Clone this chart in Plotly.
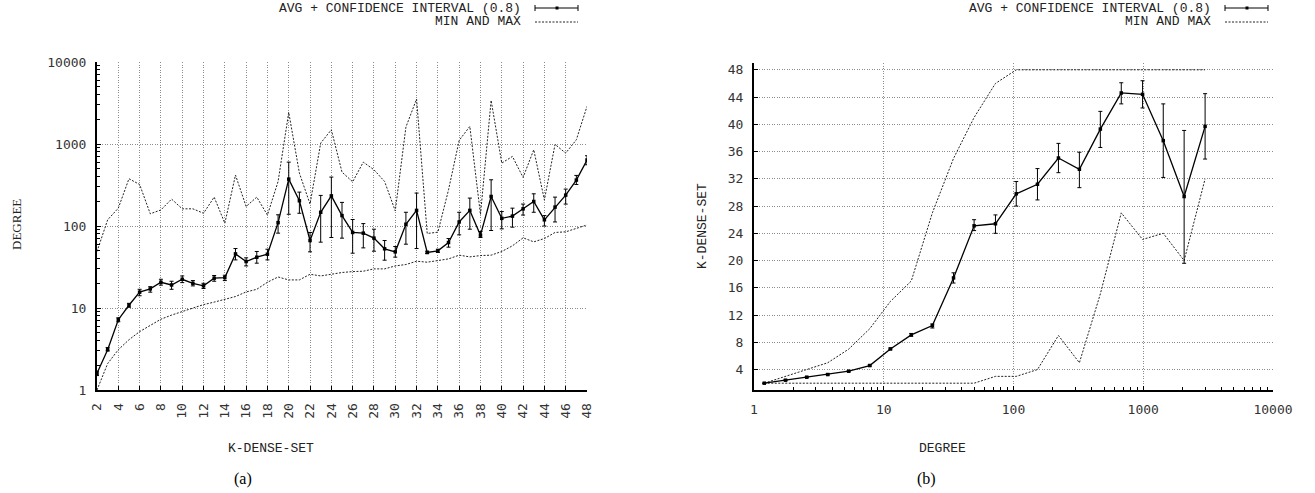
import plotly.graph_objects as go

W, H = 1315, 493

# ---------------- Panel (a): DEGREE vs K-DENSE-SET ----------------
k_vals = list(range(2, 49))
a_avg = [1.6, 3.1, 7.2, 10.8, 15.6, 17.1, 20.6, 19.1, 22.4, 20.0, 18.6, 23.1, 23.5,
         45.7, 36.9, 41.6, 45.3, 110, 373, 203, 66.5, 147, 233, 134, 83.4, 81.8,
         71.1, 52.7, 48.4, 105, 155, 47.5, 49.8, 62.9, 112, 155, 77.3, 229, 124,
         132, 162, 199, 119, 170, 238, 363, 636]
a_ci_hi = [1.7, 3.3, 7.6, 11.4, 16.9, 18.2, 22.4, 21.2, 24.6, 21.6, 20.0, 24.9, 25.1,
           53.1, 40.9, 48.9, 52.1, 137, 601, 259, 83.4, 236, 395, 194, 120, 107,
           91.4, 66.5, 56.2, 147, 252, 49.3, 52.1, 70.3, 147, 219, 85.7, 366, 150,
           165, 185, 247, 134, 225, 282, 414, 719]
a_ci_lo = [1.5, 3.0, 6.8, 10.2, 14.1, 15.6, 19.0, 16.9, 20.4, 18.6, 17.3, 21.2, 21.6,
           38.6, 32.6, 35.2, 38.6, 81.8, 139, 143, 48.4, 63.5, 72.4, 71.1, 46.6, 54.1,
           49.3, 38.3, 41.7, 60.0, 53.1, 46.2, 47.5, 55.2, 78.0, 91.4, 72.4, 88.1, 92.3,
           96.8, 136, 147, 100, 112, 185, 321, 558]
a_max = [48.9, 119, 165, 377, 321, 141, 157, 213, 162, 162, 143, 225, 108,
         418, 173, 225, 136, 349, 2430, 442, 185, 1026, 1493, 454, 346, 601,
         485, 349, 153, 1608, 3532, 81.0, 84.1, 276, 1106, 1640, 138, 3404, 585,
         705, 391, 851, 208, 988, 774, 1127, 2875]
a_min = [1.0, 2.1, 3.1, 4.1, 5.15, 6.2, 7.3, 8.2, 9.1, 10.1, 11.0, 11.8, 12.7,
         13.8, 15.7, 16.9, 20.6, 23.9, 22.0, 22.0, 25.8, 24.6, 25.8, 27.1, 27.8, 28.1,
         30.0, 30.0, 32.6, 33.9, 37.2, 36.2, 37.9, 39.7, 44.1, 42.0, 43.6, 44.1, 48.9,
         57.3, 71.7, 64.1, 70.3, 83.4, 84.9, 94.2, 103]
a_xticks = list(range(2, 49, 2))
a_yticks = [1, 10, 100, 1000, 10000]

# ---------------- Panel (b): K-DENSE-SET vs DEGREE ----------------
b_deg = [1.20, 1.75, 2.55, 3.70, 5.37, 7.80, 11.25, 16.3, 23.7, 34.5, 49.7,
         72.6, 105, 153, 222, 322, 467, 677, 988, 1426, 2066, 2997]
b_avg = [2.0, 2.44, 2.88, 3.27, 3.76, 4.59, 7.03, 9.09, 10.45, 17.45, 25.1,
         25.4, 29.8, 31.2, 35.05, 33.4, 39.3, 44.6, 44.4, 37.6, 29.4, 39.7]
b_ci_hi = [2.05, 2.5, 2.95, 3.35, 3.85, 4.7, 7.15, 9.3, 10.7, 18.2, 26.0,
           26.7, 31.6, 33.5, 37.2, 35.9, 41.9, 46.1, 46.4, 43.0, 39.1, 44.5]
b_ci_lo = [1.95, 2.38, 2.8, 3.19, 3.67, 4.48, 6.9, 8.9, 10.1, 16.7, 24.4,
           24.0, 28.0, 28.9, 32.9, 30.7, 36.6, 43.0, 42.4, 32.2, 19.6, 34.9]
b_max = [2, 3, 4, 5, 7, 10, 14, 17, 27, 35, 41, 46, 48, 48, 48, 48, 48, 48,
         48, 48, 48, 48]
b_min = [2, 2, 2, 2, 2, 2, 2, 2, 2, 2, 2, 3, 3, 4, 9, 5, 15.1, 27, 23.1,
         24, 20, 32]
b_xticks = [1, 10, 100, 1000, 10000]
b_yticks = list(range(4, 49, 4))

legend_avg = "AVG + CONFIDENCE INTERVAL (0.8)"
legend_mm = "MIN AND MAX"

MONO = "DejaVu Sans Mono"
LMONO = "Liberation Mono"
SERIF = "Liberation Serif"
GRID = "#8c8c8c"
DASH = "2px,1.5px"
GRIDDASH = "1px,1.5px"

# minor log ticks (2..9 in every decade) for the log axes
log_minor = [m * 10 ** d for d in range(0, 4) for m in range(2, 10)]


def err(avg, hi, lo):
    up = [h - a for a, h in zip(avg, hi)]
    dn = [a - l for a, l in zip(avg, lo)]
    return dict(type="data", symmetric=False, array=up, arrayminus=dn,
                color="black", thickness=1, width=2)


fig = go.Figure()

# panel (a)
fig.add_trace(go.Scatter(x=k_vals, y=a_max, mode="lines", xaxis="x", yaxis="y",
                         line=dict(color="#222", width=1, dash=DASH),
                         showlegend=False, hoverinfo="skip"))
fig.add_trace(go.Scatter(x=k_vals, y=a_min, mode="lines", xaxis="x", yaxis="y",
                         line=dict(color="#222", width=1, dash=DASH),
                         showlegend=False, hoverinfo="skip"))
fig.add_trace(go.Scatter(x=k_vals, y=a_avg, mode="lines+markers", xaxis="x", yaxis="y",
                         line=dict(color="black", width=1.3),
                         marker=dict(symbol="square", size=3.5, color="black"),
                         error_y=err(a_avg, a_ci_hi, a_ci_lo), showlegend=False))

# panel (b)
fig.add_trace(go.Scatter(x=b_deg, y=b_max, mode="lines", xaxis="x2", yaxis="y2",
                         line=dict(color="#222", width=1, dash=DASH),
                         showlegend=False, hoverinfo="skip"))
fig.add_trace(go.Scatter(x=b_deg, y=b_min, mode="lines", xaxis="x2", yaxis="y2",
                         line=dict(color="#222", width=1, dash=DASH),
                         showlegend=False, hoverinfo="skip"))
fig.add_trace(go.Scatter(x=b_deg, y=b_avg, mode="lines+markers", xaxis="x2", yaxis="y2",
                         line=dict(color="black", width=1.3),
                         marker=dict(symbol="square", size=3.5, color="black"),
                         error_y=err(b_avg, b_ci_hi, b_ci_lo), showlegend=False))


def px(x):
    return x / W


def py(y):
    return 1 - y / H


tickfont = dict(family=MONO, size=13, color="#333")
common_axis = dict(showline=True, linecolor="black", linewidth=2, ticks="inside",
                   ticklen=4, tickcolor="black", showgrid=True, gridcolor=GRID,
                   griddash=GRIDDASH, gridwidth=1, zeroline=False, tickfont=tickfont,
                   automargin=False, ticklabelstandoff=6)
log_minor_axis = dict(ticks="inside", ticklen=3, tickcolor="black", showgrid=False,
                      tickmode="array", tickvals=log_minor)

fig.update_layout(
    width=W, height=H, autosize=False,
    margin=dict(l=0, r=0, t=0, b=0),
    paper_bgcolor="white", plot_bgcolor="white",
    xaxis=dict(domain=[px(97), px(587)], range=[2, 48], tickmode="array",
               tickvals=a_xticks, ticktext=[str(v) for v in a_xticks],
               tickangle=-90, anchor="y", **common_axis),
    yaxis=dict(domain=[py(390), py(62)], type="log", range=[0, 4], tickmode="array",
               tickvals=a_yticks, ticktext=[str(v) for v in a_yticks], anchor="x",
               minor=log_minor_axis, **common_axis),
    xaxis2=dict(domain=[px(754), px(1273)], type="log", range=[0, 4], tickmode="array",
                tickvals=b_xticks, ticktext=[str(v) for v in b_xticks], anchor="y2",
                minor=log_minor_axis, **common_axis),
    yaxis2=dict(domain=[py(390), py(63)], range=[1, 49], tickmode="array",
                tickvals=b_yticks, ticktext=[str(v) for v in b_yticks], anchor="x2",
                **common_axis),
)

ann = []
# axis titles and captions
ann.append(dict(x=px(271), y=py(448), text="K-DENSE-SET", font=dict(family=LMONO, size=13, color="#222")))
ann.append(dict(x=px(942), y=py(448), text="DEGREE", font=dict(family=LMONO, size=13, color="#222")))
ann.append(dict(x=px(16), y=py(224), text="DEGREE", textangle=-90, font=dict(family=SERIF, size=13, color="#222")))
ann.append(dict(x=px(702), y=py(226), text="K-DENSE-SET", textangle=-90, font=dict(family=LMONO, size=13, color="#222")))
ann.append(dict(x=px(243), y=py(479), text="(a)", font=dict(family=SERIF, size=16, color="black")))
ann.append(dict(x=px(926), y=py(479), text="(b)", font=dict(family=SERIF, size=16, color="black")))

shapes = []
for off in (0, 690):
    ann.append(dict(x=px(523 + off), y=py(8), text=legend_avg, xanchor="right",
                    font=dict(family=LMONO, size=13, color="#222")))
    ann.append(dict(x=px(523 + off), y=py(22), text=legend_mm, xanchor="right",
                    font=dict(family=LMONO, size=13, color="#222")))
    x0, x1 = px(535 + off), px(578 + off)
    shapes.append(dict(type="line", xref="paper", yref="paper", x0=x0, x1=x1,
                       y0=py(8), y1=py(8), line=dict(color="black", width=1)))
    for xx in (x0, x1):
        shapes.append(dict(type="line", xref="paper", yref="paper", x0=xx, x1=xx,
                           y0=py(5), y1=py(11), line=dict(color="black", width=1)))
    shapes.append(dict(type="rect", xref="paper", yref="paper",
                       x0=px(555.5 + off), x1=px(558.5 + off), y0=py(9.5), y1=py(6.5),
                       fillcolor="black", line=dict(width=0)))
    shapes.append(dict(type="line", xref="paper", yref="paper", x0=x0, x1=x1,
                       y0=py(22), y1=py(22),
                       line=dict(color="#222", width=1, dash=DASH)))

for a in ann:
    a.update(xref="paper", yref="paper", showarrow=False)
    a.setdefault("xanchor", "center")
    a.setdefault("yanchor", "middle")

fig.update_layout(annotations=ann, shapes=shapes)

# remove the browser's default 8px body margin so the figure fills the window
fig.write_html("out.html",
               config={"displayModeBar": False},
               post_script="document.body.style.margin='0';"
                           "document.body.style.overflow='hidden';")
